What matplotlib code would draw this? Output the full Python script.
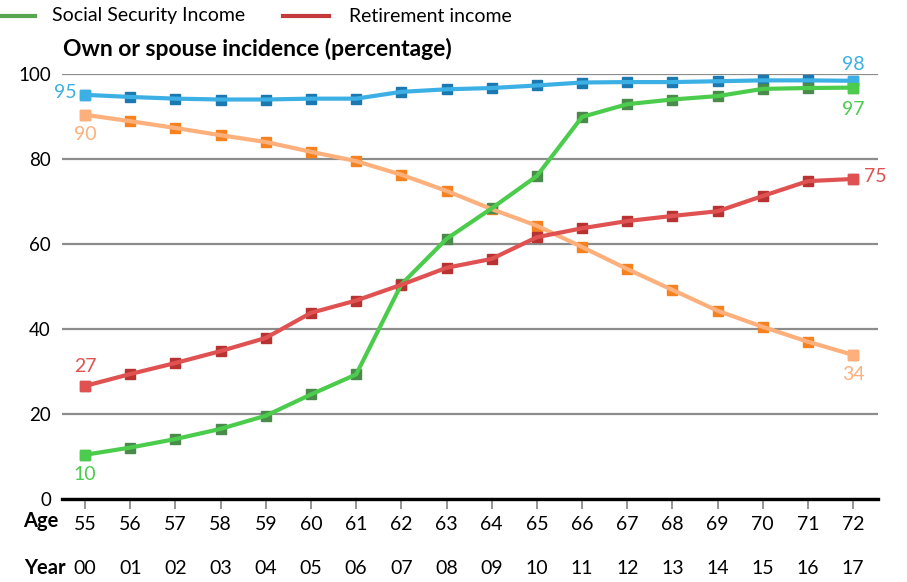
import matplotlib
matplotlib.use("Agg")
import matplotlib.pyplot as plt
from matplotlib.lines import Line2D
import matplotlib.transforms as mtransforms

plt.rcParams['font.family'] = ['Lato', 'DejaVu Sans']

ages = [55, 56, 57, 58, 59, 60, 61, 62, 63, 64, 65, 66, 67, 68, 69, 70, 71, 72]
years = ["00", "01", "02", "03", "04", "05", "06", "07", "08", "09",
         "10", "11", "12", "13", "14", "15", "16", "17"]

blue_vals = [95.1, 94.6, 94.2, 94.0, 94.0, 94.2, 94.2, 95.8, 96.4, 96.7,
             97.3, 98.0, 98.1, 98.1, 98.3, 98.5, 98.5, 98.4]
orange_vals = [90.4, 88.9, 87.3, 85.6, 84.0, 81.7, 79.5, 76.3, 72.5, 68.2,
               64.3, 59.3, 54.1, 49.2, 44.3, 40.5, 37.0, 33.9]
social_security = [10.4, 12.1, 14.1, 16.5, 19.6, 24.6, 29.3, 50.5, 61.2, 68.4,
                   76.0, 89.9, 92.9, 94.0, 94.8, 96.5, 96.7, 96.8]
retirement = [26.6, 29.4, 32.0, 34.8, 37.9, 43.8, 46.7, 50.4, 54.4, 56.5,
              61.6, 63.7, 65.4, 66.6, 67.7, 71.3, 74.8, 75.3]

series = [
    # values, line colour, marker colour, label offsets (first, last)
    (blue_vals, "#3cb0e4", "#1b78b0", ((-14, 2), (0, 12))),
    (orange_vals, "#fdb07c", "#f5821f", ((0, -14), (0, -14))),
    (social_security, "#4ccc4c", "#4a8a4a", ((0, -14), (0, -16))),
    (retirement, "#e05252", "#b83232", ((0, 14), (16, 2))),
]

fig = plt.figure(figsize=(9.07, 5.82), dpi=100)
ax = fig.add_axes([62/907, 1-499/582, (878-62)/907, (499-74)/582])

x = list(range(len(ages)))
ax.set_xlim(-0.51, 17.55)
ax.set_ylim(0, 100)

for vals, lc, mc, offs in series:
    ax.plot(x, vals, linestyle="none", marker="s", markersize=7,
            color=mc, zorder=3, clip_on=False)
    ax.plot(x, vals, color=lc, lw=3.0, zorder=4, clip_on=False,
            solid_capstyle="butt")
    ax.plot([x[0], x[-1]], [vals[0], vals[-1]], linestyle="none", marker="s",
            markersize=7.5, color=lc, zorder=5, clip_on=False)
    for idx, off in zip((0, -1), offs):
        ax.annotate(f"{round(vals[idx])}", (x[idx], vals[idx]),
                    xytext=off, textcoords="offset points",
                    ha="center", va="center", color=lc, fontsize=14,
                    annotation_clip=False, zorder=6)

ax.set_yticks([0, 20, 40, 60, 80, 100])
ax.set_yticklabels(["0", "20", "40", "60", "80", "100"], fontsize=13.5)
ax.yaxis.grid(True, color="#8c8c8c", lw=1.6)
ax.set_axisbelow(True)
ax.tick_params(axis="y", length=0, pad=8)
for s in ("left", "right", "top"):
    ax.spines[s].set_visible(False)
ax.spines["bottom"].set_color("black")
ax.spines["bottom"].set_linewidth(2.4)
ax.spines["bottom"].set_zorder(7)

ax.set_xticks(x)
ax.set_xticklabels([str(a) for a in ages], fontsize=14)
ax.tick_params(axis="x", length=7, width=1.3, color="#8c8c8c", pad=5)

trans = mtransforms.blended_transform_factory(ax.transData, fig.transFigure)
for xi, yr in zip(x, years):
    ax.text(xi, 1-568/582, yr, transform=trans, ha="center", va="center",
            fontsize=14)
fig.text(58/907, 1-521/582, "Age", ha="right", va="center",
         fontsize=14.5, fontweight="bold")
fig.text(66/907, 1-568/582, "Year", ha="right", va="center",
         fontsize=14.5, fontweight="bold")

fig.text(63/907, 1-49/582, "Own or spouse incidence (percentage)",
         ha="left", va="center", fontsize=16.5, fontweight="bold")

# legend
legend_items = [("Social Security Income", "#58a552", 0, 35, 52),
                ("Retirement income", "#c23a3a", 283, 329, 349)]
for label, col, x0, x1, tx in legend_items:
    fig.add_artist(Line2D([x0/907, x1/907], [1-16/582, 1-16/582],
                          transform=fig.transFigure, color=col, lw=3))
    fig.text(tx/907, 1-16/582, label, ha="left", va="center", fontsize=14)

fig.savefig("out.png", dpi=100)
